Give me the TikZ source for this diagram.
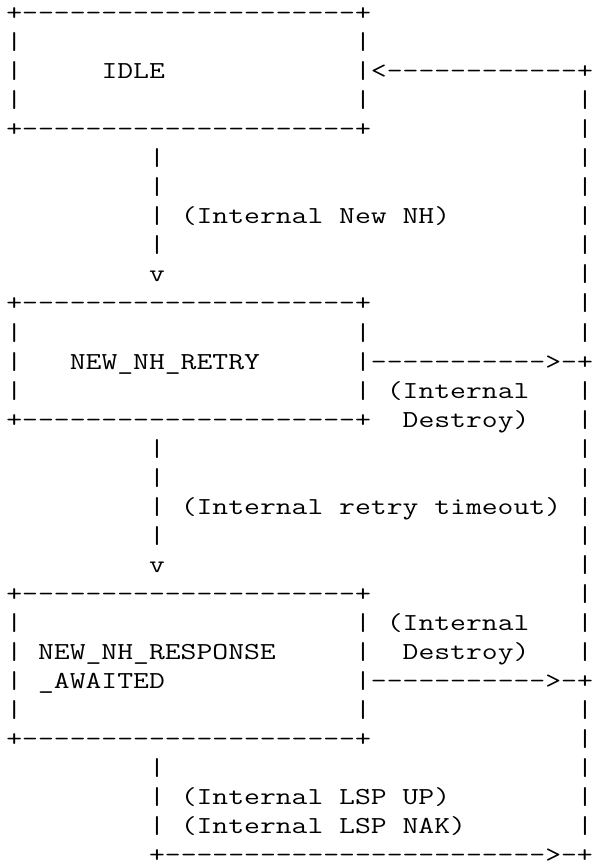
\documentclass[tikz,border=0pt]{standalone}
\usepackage{graphicx}
\newlength\artchw
\newcommand\artfontcmd{\fontsize{30.476pt}{36pt}\selectfont\ttfamily}
\newcommand\Atxt[1]{\scalebox{\artfx}[0.8]{\artfontcmd #1}}
\newcommand\dsh[1]{\foreach\k in {1,...,#1}{-}}
\tikzset{art/.style={anchor=base west, inner sep=0pt, outer sep=0pt, text=black}}
% \seg{name}{column}{row}{text}
\newcommand\seg[4]{\node[art] (#1) at ({6.4+15.85*(#2)},{847.5-29.05*(#3)}) {\Atxt{#4}};}
\begin{document}
\settowidth{\artchw}{\artfontcmd M}%
\pgfmathsetmacro\artfx{15.85/\artchw}%
\begin{tikzpicture}[x=1pt,y=1pt]
\useasboundingbox (0,0) rectangle (593,868);
% ---------- box IDLE ----------
\seg{b1t}{0}{0}{+\dsh{21}+}
\foreach \r in {1,2,3}{\seg{b1l\r}{0}{\r}{|}\seg{b1r\r}{22}{\r}{|}}
\seg{idle}{6}{2}{IDLE}
\seg{back}{23}{2}{<\dsh{12}+}
\seg{b1b}{0}{4}{+\dsh{21}+}
% ---------- IDLE -> NEW_NH_RETRY ----------
\foreach \r in {5,6,7,8}{\seg{c1\r}{9}{\r}{|}}
\seg{c1v}{9}{9}{v}
\seg{lblnewnh}{11}{7}{(Internal New NH)}
% ---------- box NEW_NH_RETRY ----------
\seg{b2t}{0}{10}{+\dsh{21}+}
\foreach \r in {11,12,13}{\seg{b2l\r}{0}{\r}{|}\seg{b2r\r}{22}{\r}{|}}
\seg{retry}{4}{12}{NEW\_NH\_RETRY}
\seg{out1}{23}{12}{\dsh{11}>-+}
\seg{lbldestroyA}{24}{13}{(Internal}
\seg{lbldestroyB}{25}{14}{Destroy)}
\seg{b2b}{0}{14}{+\dsh{21}+}
% ---------- NEW_NH_RETRY -> NEW_NH_RESPONSE_AWAITED ----------
\foreach \r in {15,16,17,18}{\seg{c2\r}{9}{\r}{|}}
\seg{c2v}{9}{19}{v}
\seg{lblretry}{11}{17}{(Internal retry timeout)}
% ---------- box NEW_NH_RESPONSE_AWAITED ----------
\seg{b3t}{0}{20}{+\dsh{21}+}
\foreach \r in {21,22,23,24}{\seg{b3l\r}{0}{\r}{|}\seg{b3r\r}{22}{\r}{|}}
\seg{respA}{2}{22}{NEW\_NH\_RESPONSE}
\seg{respB}{2}{23}{\_AWAITED}
\seg{lbldestroyC}{24}{21}{(Internal}
\seg{lbldestroyD}{25}{22}{Destroy)}
\seg{out2}{23}{23}{\dsh{11}>-+}
\seg{b3b}{0}{25}{+\dsh{21}+}
% ---------- NEW_NH_RESPONSE_AWAITED -> IDLE (bottom) ----------
\foreach \r in {26,27,28}{\seg{c3\r}{9}{\r}{|}}
\seg{lbllspup}{11}{27}{(Internal LSP UP)}
\seg{lbllspnak}{11}{28}{(Internal LSP NAK)}
\seg{bottom}{9}{29}{+\dsh{24}>-+}
% ---------- right return rail ----------
\foreach \r in {3,...,11,13,14,...,22,24,25,...,28}{\seg{rail\r}{36}{\r}{|}}
\end{tikzpicture}
\end{document}
